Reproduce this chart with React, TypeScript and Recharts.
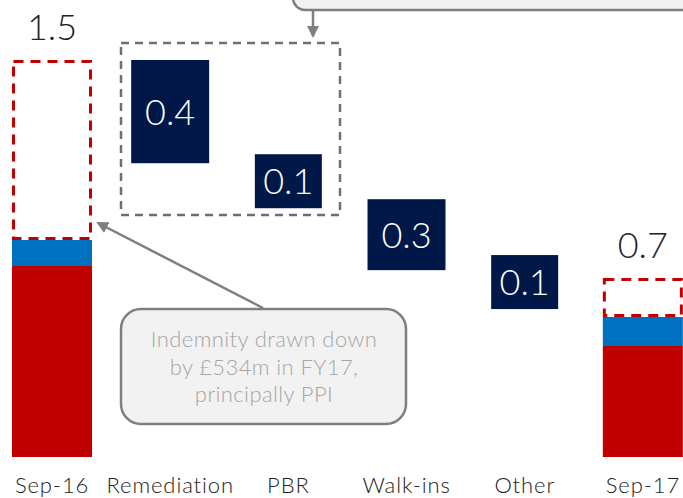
import { BarChart, Bar, XAxis, YAxis, LabelList } from 'recharts';

const categories = ['Sep-16', 'Remediation', 'PBR', 'Walk-ins', 'Other', 'Sep-17'];
// hidden offset under the floating boxes
const baseValues = [0, 1.11, 0.94, 0.706, 0.559, 0];
const redValues = [0.722, 0, 0, 0, 0, 0.419];
const blueValues = [0.098, 0, 0, 0, 0, 0.11];
const dashedValues = [0.68, 0, 0, 0, 0, 0.147];
const dropValues = [0, 0.39, 0.204, 0.268, 0.204, 0];
const valueLabels = ['1.5', '0.4', '0.1', '0.3', '0.1', '0.7'];

const data = categories.map((name, i) => ({
  name,
  base: baseValues[i],
  red: redValues[i],
  blue: blueValues[i],
  dashed: dashedValues[i],
  drop: dropValues[i],
}));

const FONT = 'Lato, "Open Sans", sans-serif';
const NAVY = '#001848';
const RED = '#C00000';
const BLUE = '#0070C0';
const GREY = '#7F7F7F';

function DashedBox(props: any) {
  const { x, y, width, height } = props;
  if (!height || height <= 0) return null;
  return (
    <rect
      x={x + 1.5}
      y={y + 1.5}
      width={width - 3}
      height={height - 3}
      fill="none"
      stroke={RED}
      strokeWidth={3}
      strokeDasharray="10 7"
    />
  );
}

function DropBox(props: any) {
  const { x, y, width, height, value } = props;
  if (!height || height <= 0) return null;
  const v = Array.isArray(value) ? value[1] - value[0] : value;
  // narrower boxes for the small movements
  const inset = v < 0.25 ? 6.5 : 1;
  return <rect x={x + inset} y={y} width={width - inset * 2} height={height} fill={NAVY} />;
}

function InsideLabel(props: any) {
  const { x, y, width, height, index } = props;
  if (!dropValues[index]) return null;
  return (
    <text
      x={x + width / 2}
      y={y + height / 2 + 13}
      textAnchor="middle"
      fill="#fff"
      fontFamily={FONT}
      fontWeight={300}
      fontSize={36}
    >
      {valueLabels[index]}
    </text>
  );
}

function TopLabel(props: any) {
  const { x, y, width, index } = props;
  if (!dashedValues[index]) return null;
  return (
    <text
      x={x + width / 2}
      y={y - 20}
      textAnchor="middle"
      fill="#222"
      fontFamily={FONT}
      fontWeight={300}
      fontSize={36}
    >
      {valueLabels[index]}
    </text>
  );
}

function CategoryTick(props: any) {
  const { x, y, payload } = props;
  return (
    <text
      x={x}
      y={y + 28}
      textAnchor="middle"
      fill="#222"
      fontFamily={FONT}
      fontWeight={300}
      fontSize={22}
      letterSpacing={0.9}
    >
      {payload.value}
    </text>
  );
}

function Annotations() {
  const noteStyle = {
    fill: '#A6A6A6',
    fontFamily: FONT,
    fontWeight: 300,
    fontSize: 22,
    letterSpacing: 0.4,
  };
  return (
    <svg
      width={683}
      height={498}
      style={{ position: 'absolute', left: 0, top: 0, pointerEvents: 'none' }}
    >
      <defs>
        <marker id="head2" markerWidth="12" markerHeight="12" refX="10" refY="6" orient="auto" markerUnits="userSpaceOnUse">
          <path d="M0,0 L12,6 L0,12 z" fill={GREY} />
        </marker>
      </defs>
      <rect x={121} y={43} width={219} height={172} fill="none" stroke="#6B7075" strokeWidth={2.5} strokeDasharray="8 6" />
      <rect x={293} y={-40} width={420} height={50} rx={12} fill="#F2F2F2" stroke={GREY} strokeWidth={2.5} />
      <line x1={313} y1={10} x2={313} y2={36} stroke={GREY} strokeWidth={2.5} markerEnd="url(#head2)" />
      <line x1={263} y1={308} x2={98} y2={223} stroke={GREY} strokeWidth={2.5} markerEnd="url(#head2)" />
      <rect x={121} y={309} width={285} height={115} rx={20} fill="#F2F2F2" stroke={GREY} strokeWidth={2.5} />
      <text x={264} y={347} textAnchor="middle" style={noteStyle}>
        Indemnity drawn down
      </text>
      <text x={264} y={375} textAnchor="middle" style={noteStyle}>
        by £534m in FY17,
      </text>
      <text x={264} y={402} textAnchor="middle" style={noteStyle}>
        principally PPI
      </text>
    </svg>
  );
}

export default function App() {
  return (
    <div
      style={{
        position: 'absolute',
        left: 0,
        top: 0,
        width: 683,
        height: 498,
        overflow: 'hidden',
        background: '#fff',
      }}
    >
      <div style={{ marginLeft: -7 }}>
        <BarChart
          width={709}
          height={498}
          data={data}
          margin={{ top: 60, right: 0, bottom: 0, left: 0 }}
          barSize={80}
        >
          <XAxis
            dataKey="name"
            axisLine={false}
            tickLine={false}
            height={41}
            interval={0}
            tick={<CategoryTick />}
          />
          <YAxis hide domain={[0, 1.5]} allowDataOverflow />
          <Bar dataKey="base" stackId="a" fill="transparent" isAnimationActive={false} />
          <Bar dataKey="red" stackId="a" fill={RED} isAnimationActive={false} />
          <Bar dataKey="blue" stackId="a" fill={BLUE} isAnimationActive={false} />
          <Bar dataKey="dashed" stackId="a" shape={<DashedBox />} isAnimationActive={false}>
            <LabelList content={<TopLabel />} />
          </Bar>
          <Bar dataKey="drop" stackId="a" shape={<DropBox />} isAnimationActive={false}>
            <LabelList content={<InsideLabel />} />
          </Bar>
        </BarChart>
      </div>
      <Annotations />
    </div>
  );
}
